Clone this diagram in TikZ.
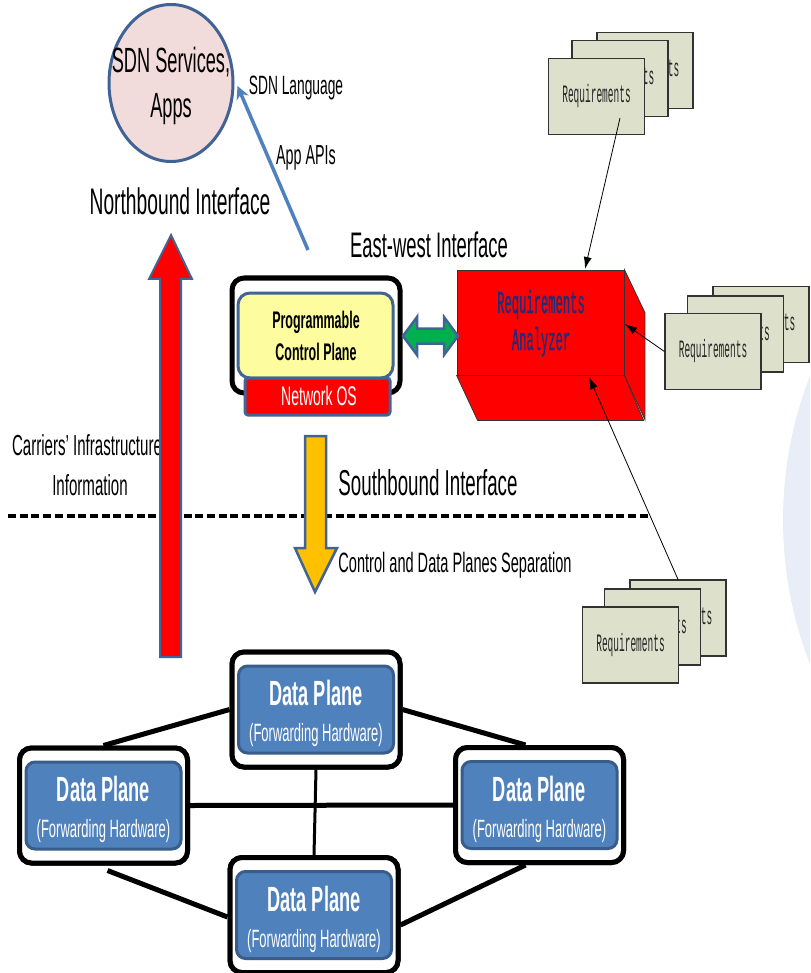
\documentclass[tikz,border=0pt]{standalone}
\usepackage{fontspec}
\setmainfont{Liberation Sans}
\newfontfamily\nar[FakeStretch=0.52]{Liberation Sans}
\newfontfamily\mon[FakeStretch=0.38]{Liberation Mono}
\newfontfamily\monb[FakeStretch=0.38,FakeBold=0.6]{Liberation Mono}
\usetikzlibrary{arrows.meta,calc,shapes.geometric}
\definecolor{pale}{RGB}{232,237,247}
\definecolor{cpink}{RGB}{242,220,219}
\definecolor{cborder}{RGB}{64,98,148}
\definecolor{sborder}{RGB}{65,100,150}
\definecolor{yel}{RGB}{253,253,160}
\definecolor{dpfill}{RGB}{79,129,189}
\definecolor{dpborder}{RGB}{56,93,138}
\definecolor{grn}{RGB}{0,176,80}
\definecolor{org}{RGB}{255,192,0}
\definecolor{cardfill}{RGB}{221,225,204}
\definecolor{cardline}{RGB}{50,50,50}
\definecolor{navy}{RGB}{31,45,120}
\definecolor{arrblue}{RGB}{79,129,189}
\begin{document}
\begin{tikzpicture}[x=1pt,y=-1pt,
  txt/.style={inner sep=0pt, anchor=base},
  card/.style={draw=cardline, line width=1.2, fill=cardfill, minimum width=96, minimum height=76, inner sep=0pt,
    font=\mon\fontsize{25}{28}\selectfont, text=black!85},
  dpouter/.style={draw=black, line width=5, fill=white, rounded corners=12, minimum width=168, minimum height=115, inner sep=0pt},
  dpinner/.style={draw=dpborder, line width=3, fill=dpfill, rounded corners=9, minimum width=155, minimum height=87, inner sep=0pt},
  dptitle/.style={txt, text=white, font=\nar\bfseries\fontsize{35}{40}\selectfont},
  dpsub/.style={txt, text=white, font=\nar\fontsize{25}{28}\selectfont},
  link/.style={line width=5, draw=black},
  req/.style={-{Latex[length=12pt,width=8pt]}, line width=0.8, draw=black},
  face/.style={draw=black!80, line width=0.8, fill=red}
]
\useasboundingbox (0,0) rectangle (810,973);
\begin{scope}
  \clip (0,0) rectangle (810,973);
  \fill[pale] (1180,520) circle[radius=397];
\end{scope}

% ---------- SDN services circle ----------
\node[ellipse, draw=cborder, line width=3, fill=cpink, minimum width=124, minimum height=157] (svc) at (171,83) {};
\node[txt, font=\nar\fontsize{35}{40}\selectfont] (svc1) at (171,73) {SDN Services,};
\node[txt, font=\nar\fontsize{35}{40}\selectfont] (svc2) at (171,118) {Apps};

\node[txt, font=\nar\fontsize{26.5}{30}\selectfont] (lang) at (296,95) {SDN Language};
\node[txt, font=\nar\fontsize{27.5}{30}\selectfont] (apis) at (306,165) {App APIs};
\node[txt, font=\nar\fontsize{37}{42}\selectfont] (nbi) at (180,215) {Northbound Interface};
\node[txt, font=\nar\fontsize{35.5}{40}\selectfont] (ewi) at (429,258) {East-west Interface};
\node[txt, font=\nar\fontsize{29}{34}\selectfont] (car1) at (87,455) {Carriers’ Infrastructure};
\node[txt, font=\nar\fontsize{29}{34}\selectfont] (car2) at (90,495) {Information};
\node[txt, font=\nar\fontsize{36}{40}\selectfont] (sbi) at (428,495) {Southbound Interface};
\node[txt, font=\nar\fontsize{28}{32}\selectfont] (sep) at (455,572) {Control and Data Planes Separation};

% ---------- dashed separation line ----------
\coordinate (dl1) at (8,516);
\coordinate (dl2) at (650,516);
\draw[line width=4, dash pattern=on 8pt off 3.7pt] (dl1) -- (dl2);

% ---------- big arrows ----------
\draw[fill=red, draw=sborder, line width=2, line join=miter]
  (160,657) -- (160,279) -- (149,279) -- (171,235) -- (192,279) -- (181,279) -- (181,657) -- cycle;
\draw[fill=org, draw=sborder, line width=2.5, line join=miter]
  (305,436) -- (326,436) -- (326,548) -- (337,548) -- (315,592) -- (295,548) -- (305,548) -- cycle;

% ---------- control plane ----------
\node[dpouter] (cp) at (316,335.5) {};
\node[draw=sborder, line width=3, fill=yel, rounded corners=12, minimum width=155, minimum height=85, inner sep=0pt] (pcp) at (315.5,335.5) {};
\node[txt, font=\nar\bfseries\fontsize{24}{28}\selectfont] (pcp1) at (316,328) {Programmable};
\node[txt, font=\nar\bfseries\fontsize{24}{28}\selectfont] (pcp2) at (316,360) {Control Plane};
\node[draw=sborder, line width=3, fill=red, rounded corners=3, minimum width=145, minimum height=37, inner sep=0pt] (nos) at (317.5,396.5) {};
\node[txt, text=white, font=\nar\fontsize{27}{30}\selectfont] (nos1) at (319,405) {Network OS};

% ---------- requirements analyzer (3D box) ----------
\node[face, minimum width=167, minimum height=105, inner sep=0pt] (ra) at (540.5,322.5) {};
\draw[face] (ra.north east) -- ++(20.5,43) -- ++(0,107) -- (ra.south east) -- cycle;
\draw[face] (ra.south west) -- ++(21,45) -- ++(166,0) -- (ra.south east) -- cycle;
\node[txt, text=navy, font=\monb\fontsize{32}{36}\selectfont] (ra1) at (541,313) {Requirements};
\node[txt, text=navy, font=\monb\fontsize{32}{36}\selectfont] (ra2) at (541,350) {Analyzer};

% ---------- green double arrow ----------
\draw[fill=grn, draw=sborder, line width=2.5, line join=miter]
  (403,336) -- (417,317) -- (417,328.5) -- (444,328.5) -- (444,317) -- (458,336)
  -- (444,355) -- (444,343.5) -- (417,343.5) -- (417,355) -- cycle;

% ---------- requirement card stacks ----------
\node[card] (c1b) at (645,70.5) {Requirements};
\node[card] (c1m) at (620,78.5) {Requirements};
\node[card] (c1f) at (596.5,96.5) {Requirements};
\node[card] (c2b) at (761,324.5) {Requirements};
\node[card] (c2m) at (735.5,334) {Requirements};
\node[card] (c2f) at (713,351.5) {Requirements};
\node[card] (c3b) at (678,618) {Requirements};
\node[card] (c3m) at (652.5,627) {Requirements};
\node[card] (c3f) at (630.5,645) {Requirements};

\coordinate (r1s) at (620,118);
\coordinate (r1e) at (585,269);
\coordinate (r2e) at (625,324);
\coordinate (r3e) at (589,377);
\draw[req] (r1s) -- (r1e);
\draw[req] (c2f.west) -- (r2e);
\draw[req] (c3b.north) -- (r3e);

% ---------- blue API arrow ----------
\coordinate (api0) at (308,250);
\draw[arrblue, line width=3.5, -{Stealth[length=13pt,width=13pt]}] (api0) -- ($(svc.east)+(3,3)$);

% ---------- data planes ----------
\coordinate (T) at (316,709.5);
\coordinate (L) at (103.5,805.5);
\coordinate (R) at (539.5,805);
\coordinate (B) at (314,915);
\foreach \n in {T,L,R,B}{
  \node[dpouter] (\n o) at (\n) {};
}

\draw[link] (Lo.north) -- (To.west);
\draw[link] (To.east) -- ($(Ro.north)+(-14,0)$);
\draw[link] (Lo.east) -- (Ro.west);
\draw[line width=3] (To.south) -- (Bo.north);
\draw[link] ($(Lo.south)+(4,5)$) -- ($(Bo.west)+(0,2)$);
\draw[link] ($(Ro.south)+(-14,0)$) -- ($(Bo.east)+(0,10)$);

\foreach \n in {T,L,R,B}{
  \node[dpouter] (\n x) at (\n) {};
  \node[dpinner] (\n i) at (\n) {};
  \node[dptitle] (\n t) at ($(\n)+(0,-4)$) {Data Plane};
  \node[dpsub] (\n s) at ($(\n)+(0,32)$) {(Forwarding Hardware)};
}
\end{tikzpicture}
\end{document}
